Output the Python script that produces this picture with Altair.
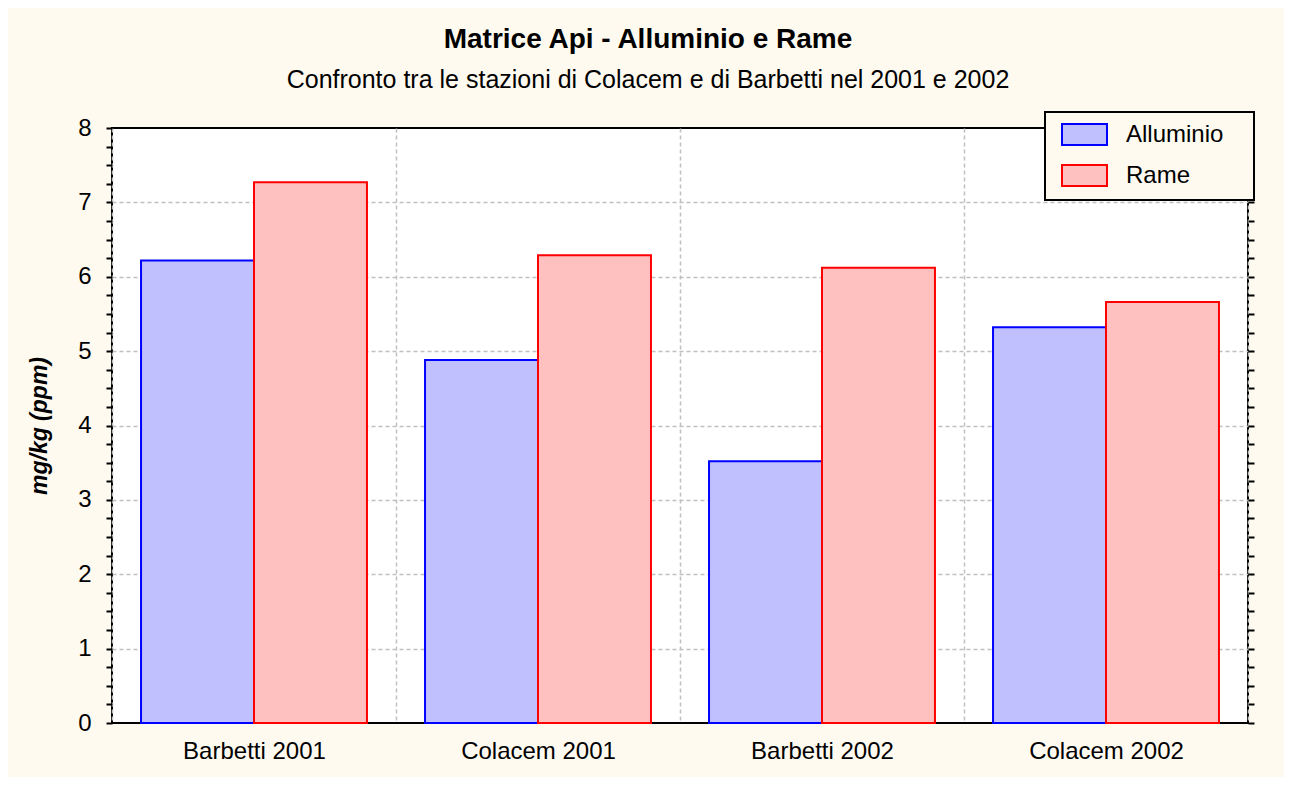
import altair as alt
import pandas as pd

categories = ["Barbetti 2001", "Colacem 2001", "Barbetti 2002", "Colacem 2002"]
series = ["Alluminio", "Rame"]
alluminio = [6.22, 4.88, 3.52, 5.32]
rame = [7.27, 6.29, 6.12, 5.66]

fill_colors = ["#C0C0FF", "#FFC0C0"]
stroke_colors = ["#0000FF", "#FF0000"]
y_ticks = [i * 0.25 for i in range(33)]

rows = []
for c, a, r in zip(categories, alluminio, rame):
    rows.append({"categoria": c, "serie": "Alluminio", "valore": a})
    rows.append({"categoria": c, "serie": "Rame", "valore": r})
df = pd.DataFrame(rows)

FONT = "Liberation Sans"
BG = "#FEFAF0"
GRID = "#C0C0C0"

x_enc = alt.X(
    "categoria:N", sort=categories, title=None,
    scale=alt.Scale(paddingInner=0, paddingOuter=0),
    axis=alt.Axis(labelAngle=0, labelFontSize=24, labelFont=FONT, labelColor="black",
                  labelPadding=16, tickBand="extent", grid=True, gridDash=[4, 3],
                  gridColor=GRID, gridWidth=1.5, domain=False, ticks=False),
)
xoff = alt.XOffset("serie:N", sort=series, scale=alt.Scale(paddingInner=0, paddingOuter=0.257))

y_scale = alt.Scale(domain=[0, 8], nice=False)

y_left = alt.Y(
    "valore:Q", scale=y_scale,
    axis=alt.Axis(
        values=y_ticks,
        labelExpr="datum.value % 1 === 0 ? datum.value : ''",
        labelOverlap=False, labelFontSize=24, labelFont=FONT, labelColor="black",
        labelPadding=15, tickSize=6, tickColor="black", tickWidth=2, domain=False,
        grid=True, gridDash=[4, 3], gridColor=GRID, gridWidth=1.5,
        gridOpacity={"condition": {"test": "datum.value % 1 === 0 && datum.value > 0 && datum.value < 8", "value": 1}, "value": 0},
        title="mg/kg (ppm)", titleFontSize=23, titleFont=FONT, titleFontWeight="bold",
        titleFontStyle="italic", titleColor="black", titlePadding=26,
    ),
)

y_right = alt.Y(
    "valore:Q", scale=y_scale,
    axis=alt.Axis(orient="right", values=y_ticks, labels=False, tickSize=6,
                  tickColor="black", tickWidth=2, domain=False, grid=False, title=None),
)

legend = alt.Legend(
    title=None, orient="none", legendX=933, legendY=-16,
    symbolType="M-2,-0.933H2V0.933H-2Z", symbolSize=506, symbolStrokeWidth=2,
    symbolOpacity=1, symbolOffset=17,
    labelFontSize=24, labelFont=FONT, labelColor="black",
    labelExpr="datum.label + '\u00a0\u00a0\u00a0\u200b'",
    labelOffset=29, rowPadding=12, padding=10,
    fillColor=BG, strokeColor="black",
)

bars = alt.Chart(df).mark_bar(strokeWidth=2, opacity=1).encode(
    x=x_enc,
    xOffset=xoff,
    y=y_left,
    fill=alt.Fill("serie:N", sort=series, scale=alt.Scale(domain=series, range=fill_colors), legend=legend),
    stroke=alt.Stroke("serie:N", sort=series, scale=alt.Scale(domain=series, range=stroke_colors), legend=legend),
)

right = alt.Chart(df).mark_point(opacity=0).encode(
    x=alt.X("categoria:N", sort=categories),
    y=y_right,
)

chart = alt.layer(bars, right).resolve_axis(y="independent").properties(
    width=1136, height=595,
    background=BG,
    autosize=alt.AutoSizeParams(type="none"),
    padding={"left": 104, "top": 120, "right": 36, "bottom": 54},
    title=alt.TitleParams(
        text="Matrice Api - Alluminio e Rame",
        subtitle="Confronto tra le stazioni di Colacem e di Barbetti nel 2001 e 2002",
        anchor="middle", dx=-32, font=FONT, fontSize=28, fontWeight="bold", color="black",
        subtitleFont=FONT, subtitleFontSize=25, subtitleColor="black",
        subtitlePadding=14, offset=18,
    ),
).configure_view(stroke="black", strokeWidth=2, fill="white").configure_legend(strokeWidth=2)

chart.save("out.html", embed_options={"renderer": "svg", "actions": False})
